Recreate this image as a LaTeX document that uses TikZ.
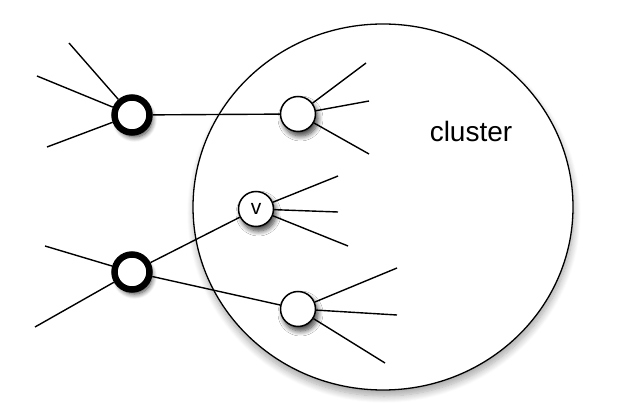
\documentclass[tikz,border=0pt]{standalone}
\usepackage{fontspec}
\setmainfont{Liberation Sans}
\usetikzlibrary{shapes.geometric,shadows.blur}

\begin{document}
\begin{tikzpicture}
  [
    x=1pt, y=-1pt,
    soft/.style={blur shadow={shadow xshift=2.5pt, shadow yshift=-4.5pt, shadow blur steps=8, shadow blur radius=5pt, shadow opacity=75}},
    member/.style={draw, circle, fill=white, line width=1.5pt, minimum size=35pt, inner sep=0pt, soft, font=\fontsize{21}{24}\selectfont},
    border/.style={draw, circle, fill=white, line width=6.5pt, minimum size=35pt, inner sep=0pt, soft},
    region/.style={draw, ellipse, fill=white, line width=1.3pt, minimum width=380pt, minimum height=366pt, inner sep=0pt, blur shadow={shadow xshift=1pt, shadow yshift=-6pt, shadow blur steps=10, shadow blur radius=7pt, shadow opacity=35}},
    link/.style={line width=1.4pt}
  ]
  \useasboundingbox (0,0) rectangle (631,419);

  \node (clust) [region] at (383,207) {};
  \node (name) [anchor=base, font=\fontsize{28}{31}\selectfont] at (471,142) {cluster};

  \node (a) [border] at (132,115) {};
  \node (d) [border] at (132,272) {};
  \node (b) [member] at (298,114) {};
  \node (v) [member] at (256,209) {v};
  \node (c) [member] at (298,309) {};

  % loose ends
  \coordinate (a1) at (69,43);
  \coordinate (a2) at (37,76);
  \coordinate (a3) at (47,147);
  \coordinate (d1) at (45,246);
  \coordinate (d2) at (35,327);
  \coordinate (b1) at (366,63);
  \coordinate (b2) at (369,101);
  \coordinate (b3) at (369,154);
  \coordinate (v1) at (338,176);
  \coordinate (v2) at (338,212);
  \coordinate (v3) at (348,246);
  \coordinate (c1) at (397,268);
  \coordinate (c2) at (397,315);
  \coordinate (c3) at (385,363);

  \draw [link] (a) -- (b);
  \draw [link] (d) -- (v);
  \draw [link] (d) -- (c);
  \foreach \n in {a,b,v,c}
    \foreach \k in {1,2,3}
      \draw [link] (\n) -- (\n\k);
  \draw [link] (d) -- (d1) (d) -- (d2);
\end{tikzpicture}
\end{document}
